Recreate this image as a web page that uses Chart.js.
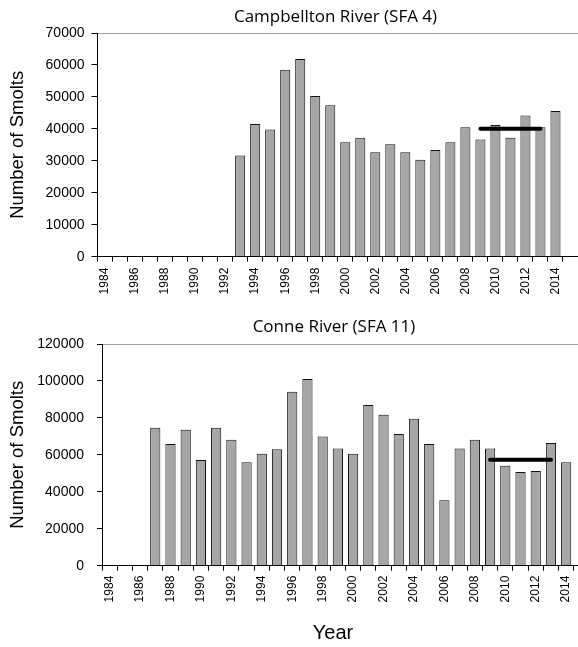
<!DOCTYPE html>
<html>
<head>
<meta charset="utf-8">
<script src="https://cdn.jsdelivr.net/npm/chart.js@4/dist/chart.umd.min.js"></script>
<style>
  html, body { margin: 0; padding: 0; background: #fff; width: 578px; height: 647px; overflow: hidden; }
  #page { position: relative; width: 578px; height: 647px; overflow: hidden; }
  canvas { position: absolute; left: 0; }
  #topChart { top: 0; }
  #bottomChart { top: 300px; }
  .title { position: absolute; font-family: "Open Sans", sans-serif; font-size: 17px; line-height: 17px;
           white-space: nowrap; transform: translateX(-50%); color: #000; }
  .axisTitle { position: absolute; font-family: "Liberation Sans", Arial, sans-serif; font-size: 20px;
               line-height: 20px; white-space: nowrap; transform: translateX(-50%); color: #000; }
</style>
</head>
<body>
<div id="page">
  <canvas id="topChart" width="578" height="300"></canvas>
  <canvas id="bottomChart" width="589" height="347"></canvas>
  <div class="title" style="left:335.5px; top:7px;">Campbellton River (SFA 4)</div>
  <div class="title" style="left:334px; top:317px;">Conne River (SFA 11)</div>
  <div class="axisTitle" style="left:333px; top:622px;">Year</div>
</div>
<script>
// Smolt years on the category axis (2015 has no count yet)
const years = [1984, 1985, 1986, 1987, 1988, 1989, 1990, 1991, 1992, 1993, 1994, 1995, 1996, 1997, 1998,
               1999, 2000, 2001, 2002, 2003, 2004, 2005, 2006, 2007, 2008, 2009, 2010, 2011, 2012, 2013,
               2014, 2015];

// Campbellton River (SFA 4) smolt counts
const campbelltonSmolts = [null, null, null, null, null, null, null, null, null, 31700, 41500, 39800, 58500,
                           61900, 50300, 47400, 35800, 37200, 32700, 35200, 32700, 30300, 33400, 35800,
                           40500, 36700, 41200, 37200, 44200, 40500, 45600, null];

// Conne River (SFA 11) smolt counts
const conneSmolts = [null, null, null, 74700, 65900, 73600, 57200, 74700, 68200, 56000, 60600, 63000, 94200,
                     101000, 70000, 63500, 60600, 87000, 81700, 71300, 79600, 65900, 35400, 63500, 68200,
                     63500, 54100, 50700, 51300, 66400, 56000, null];

// Recent five-year means (2009-2013)
const meanPeriod = [2009, 2013];
const campbelltonMean = 40000;
const conneMean = 57400;

// Y axis tick settings
const campbelltonYTicks = { max: 70000, step: 10000 };
const conneYTicks = { max: 120000, step: 20000 };

const yearLabels = years.map(String);

function makeChart(canvasId, values, mean, yTicks, frame) {
  const meanLine = meanPeriod.map(y => ({ x: String(y), y: mean }));
  return new Chart(document.getElementById(canvasId), {
    data: {
      labels: yearLabels,
      datasets: [
        {
          type: 'line',
          data: meanLine,
          borderColor: '#000',
          borderWidth: 4,
          borderCapStyle: 'round',
          pointRadius: 0,
          fill: false,
          order: 0
        },
        {
          type: 'bar',
          data: values,
          backgroundColor: '#a6a6a6',
          borderColor: '#111',
          borderWidth: 1,
          categoryPercentage: 1,
          barPercentage: 0.67,
          order: 1
        }
      ]
    },
    options: {
      responsive: false,
      animation: false,
      devicePixelRatio: 1,
      layout: { padding: { top: frame.top, left: 0, right: 0, bottom: 0 } },
      plugins: { legend: { display: false }, tooltip: { enabled: false }, title: { display: false } },
      scales: {
        x: {
          type: 'category',
          offset: true,
          grid: { offset: true, drawOnChartArea: false, tickColor: '#000', tickLength: 5 },
          border: { display: true, color: '#000', width: 1 },
          ticks: {
            autoSkip: false,
            minRotation: 90,
            maxRotation: 90,
            padding: frame.xPad,
            color: '#000',
            font: { family: 'Liberation Sans', size: 12 },
            callback: function (value, index) {
              return index % 2 === 0 ? this.getLabelForValue(value) : '';
            }
          },
          afterFit: s => { s.height = frame.xHeight; s.paddingLeft = 0; s.paddingRight = 0; }
        },
        y: {
          min: 0,
          max: yTicks.max,
          grid: {
            drawOnChartArea: true,
            color: c => (c.tick && c.tick.value === yTicks.max) ? '#a0a0a0' : 'rgba(0,0,0,0)',
            tickColor: '#000',
            tickLength: frame.yTick
          },
          border: { display: true, color: '#000', width: 1 },
          ticks: {
            stepSize: yTicks.step,
            padding: frame.yPad,
            color: '#000',
            font: { family: 'Liberation Sans', size: 14 },
            callback: v => String(v)
          },
          title: {
            display: true,
            text: 'Number of Smolts',
            color: '#000',
            font: { family: 'Liberation Sans', size: 18.5 },
            padding: { top: 7, bottom: 0 }
          },
          afterFit: s => { s.width = frame.yWidth; s.paddingTop = 0; s.paddingBottom = 0; }
        }
      }
    }
  });
}

makeChart('topChart', campbelltonSmolts, campbelltonMean, campbelltonYTicks,
  { top: 33, xHeight: 43.3, yWidth: 97.5, xPad: 6, yPad: 7, yTick: 6 });
makeChart('bottomChart', conneSmolts, conneMean, conneYTicks,
  { top: 44, xHeight: 81.3, yWidth: 102, xPad: 5, yPad: 13, yTick: 5 });
</script>
</body>
</html>
